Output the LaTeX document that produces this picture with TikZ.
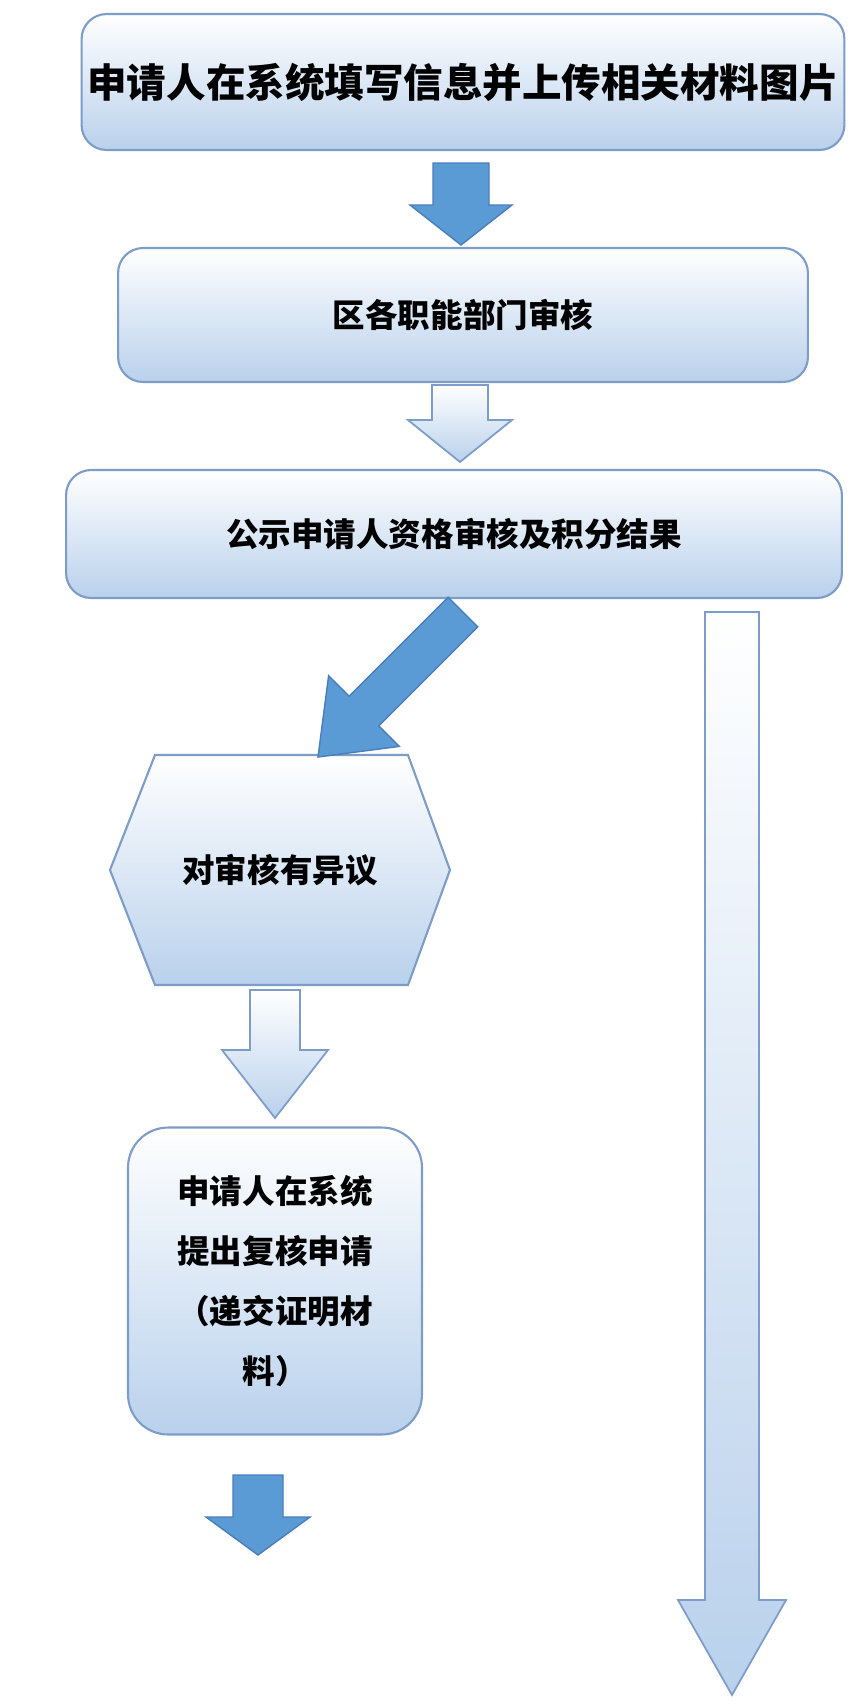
\documentclass[tikz,border=0pt]{standalone}
\usepackage{fontspec}
\setmainfont{Noto Sans CJK SC}
\usetikzlibrary{positioning}
\definecolor{bline}{HTML}{7D9CC8}
\definecolor{bfill}{HTML}{B9D1EC}
\definecolor{dfill}{HTML}{5B9BD5}
\definecolor{dline}{HTML}{4A7EBB}
\tikzset{
  stepbox/.style={draw=bline, line width=1.2pt, rounded corners=0.5cm, top color=white, bottom color=bfill, font=\bfseries\fontsize{18.5}{22}\selectfont, align=center},
  darrow/.style={draw=dline, line width=0.8pt, fill=dfill},
  larrow/.style={draw=bline, line width=1pt, top color=white, bottom color=bfill}
}
% block arrow: tip at origin, pointing down
\newcommand\blockarrow[5]{%
  \filldraw[#1] (-#2,-#5) -- (#2,-#5) -- (#2,-#4) -- (#3,-#4) -- (0,0) -- (-#3,-#4) -- (-#2,-#4) -- cycle;}
\begin{document}
\begin{tikzpicture}[x=0.02cm,y=-0.02cm]
  \useasboundingbox[fill=white] (0,0) rectangle (864,1708);
  \node (apply) [stepbox, minimum width=15cm, minimum height=2.72cm, font=\bfseries\fontsize{22.5}{26}\selectfont] at (463,82) {申请人在系统填写信息并上传相关材料图片};
  \node (audit) [stepbox, minimum width=13.8cm, minimum height=2.68cm] at (463,315) {区各职能部门审核};
  \node (notice) [stepbox, minimum width=15.52cm, minimum height=2.56cm] at (454,534) {公示申请人资格审核及积分结果};
  \filldraw[draw=bline, line width=1.2pt, top color=white, bottom color=bfill]
    (110,870) -- (155,755) -- (408,755) -- (450,870) -- (408,985) -- (155,985) -- cycle;
  \node (objection) [font=\bfseries\fontsize{18.5}{22}\selectfont] at (280,870) {对审核有异议};
  \node (review) [stepbox, rounded corners=0.8cm, minimum width=5.88cm, minimum height=6.14cm, font=\bfseries\fontsize{18.5}{34}\selectfont] at (275,1281) {申请人在系统\\提出复核申请\\（递交证明材\\料）};
  \begin{scope}[shift={(461,245)}] \blockarrow{darrow}{28}{51}{40}{82} \end{scope}
  \begin{scope}[shift={(460,462)}] \blockarrow{larrow}{28}{52}{42}{77} \end{scope}
  \begin{scope}[shift={(318,757)}, rotate=-45] \blockarrow{darrow}{21}{50}{65}{205} \end{scope}
  \begin{scope}[shift={(275,1118)}] \blockarrow{larrow}{25}{53}{68}{128} \end{scope}
  \begin{scope}[shift={(258,1555)}] \blockarrow{darrow}{25}{52}{38}{80} \end{scope}
  \begin{scope}[shift={(732,1695)}] \blockarrow{larrow}{27}{54}{95}{1083} \end{scope}
\end{tikzpicture}
\end{document}
